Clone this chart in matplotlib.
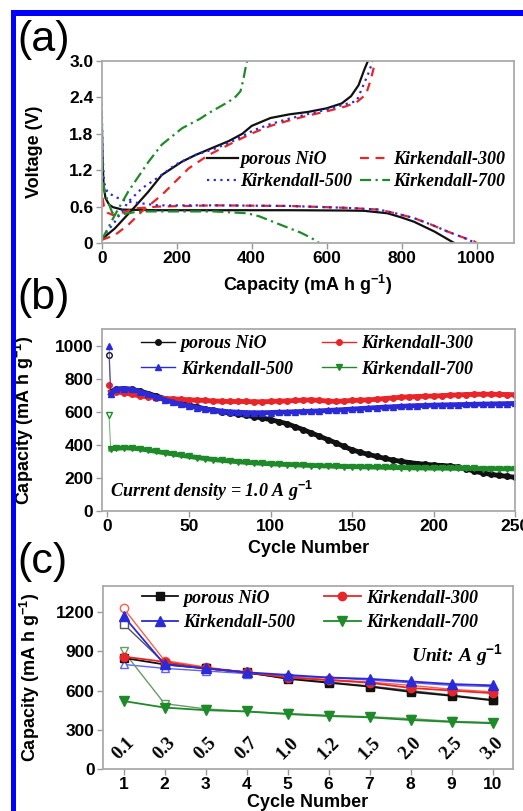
import matplotlib
matplotlib.use("Agg")
import matplotlib.pyplot as plt
from matplotlib.patches import Rectangle

plt.rcParams['font.family'] = ['Liberation Sans', 'DejaVu Sans']
plt.rcParams['font.weight'] = 'bold'
plt.rcParams['mathtext.fontset'] = 'custom'
plt.rcParams['mathtext.rm'] = 'Liberation Sans:bold'
plt.rcParams['mathtext.it'] = 'Liberation Serif:bold:italic'
plt.rcParams['mathtext.default'] = 'rm'

# ---- panel (a): voltage profiles ----
names = ['porous NiO', 'Kirkendall-300', 'Kirkendall-500', 'Kirkendall-700']

nio_dis_cap = [0, 2, 5, 10, 20, 30, 55, 150, 300, 500, 650, 700, 762, 800, 833, 860, 887, 915, 940]
nio_dis_v = [2.15, 1.4, 0.95, 0.74, 0.63, 0.59, 0.55, 0.54, 0.54, 0.54, 0.535, 0.53, 0.49, 0.42, 0.35, 0.27, 0.19, 0.09, 0.0]
nio_chg_cap = [0, 35, 89, 125, 160, 214, 250, 300, 339, 375, 400, 450, 500, 550, 600, 640, 665, 685, 700, 710]
nio_chg_v = [0.06, 0.24, 0.6, 0.85, 1.12, 1.34, 1.45, 1.58, 1.68, 1.8, 1.93, 2.06, 2.12, 2.16, 2.22, 2.30, 2.42, 2.6, 2.85, 3.0]

k300_dis_cap = [0, 2, 6, 15, 30, 55, 89, 150, 300, 500, 650, 740, 790, 833, 880, 922, 960, 993, 1000]
k300_dis_v = [1.0, 0.75, 0.6, 0.5, 0.46, 0.5, 0.57, 0.6, 0.62, 0.61, 0.58, 0.55, 0.48, 0.41, 0.3, 0.19, 0.1, 0.03, 0.0]
k300_chg_cap = [0, 35, 71, 107, 160, 232, 285, 339, 375, 406, 450, 500, 550, 600, 650, 680, 705, 718, 730]
k300_chg_v = [0.05, 0.13, 0.3, 0.52, 0.79, 1.23, 1.45, 1.62, 1.73, 1.82, 1.93, 2.02, 2.1, 2.17, 2.25, 2.32, 2.45, 2.7, 3.0]

k500_dis_cap = [0, 2, 6, 15, 35, 71, 150, 300, 500, 650, 740, 790, 833, 880, 922, 960, 990, 995]
k500_dis_v = [2.3, 1.5, 1.0, 0.84, 0.76, 0.68, 0.62, 0.62, 0.61, 0.58, 0.55, 0.48, 0.41, 0.3, 0.19, 0.1, 0.02, 0.0]
k500_chg_cap = [0, 35, 71, 107, 160, 196, 250, 300, 350, 406, 450, 500, 600, 680, 704, 715, 722]
k500_chg_v = [0.08, 0.35, 0.68, 0.9, 1.12, 1.29, 1.45, 1.55, 1.68, 1.86, 1.96, 2.05, 2.2, 2.34, 2.69, 2.85, 3.0]

k700_dis_cap = [0, 1, 3, 10, 17, 28, 40, 60, 100, 200, 300, 388, 420, 477, 531, 560, 580]
k700_dis_v = [2.1, 1.5, 1.0, 0.8, 0.68, 0.5, 0.45, 0.48, 0.52, 0.52, 0.52, 0.49, 0.44, 0.3, 0.17, 0.08, 0.0]
k700_chg_cap = [0, 35, 71, 125, 160, 214, 263, 285, 339, 357, 370, 378, 384, 388]
k700_chg_v = [0.05, 0.46, 0.85, 1.34, 1.62, 1.89, 2.05, 2.14, 2.33, 2.41, 2.5, 2.7, 2.9, 3.0]

# ---- panel (b): cycling at 1.0 A/g ----
cyc_b = [1, 2] + list(range(5, 251, 5))
nio_b = [940, 720, 735, 740, 735, 725, 710, 695, 680, 665, 650, 640, 628, 618, 608, 600, 592, 585,
         578, 570, 562, 552, 540, 528, 510, 492, 472, 452, 432, 412, 390, 370, 355, 342, 330, 318,
         308, 300, 293, 287, 282, 278, 275, 272, 265, 255, 240, 230, 222, 215, 210, 203]
k300_b = [760, 715, 720, 715, 705, 695, 690, 685, 680, 678, 675, 672, 670, 668, 665, 663, 662, 662,
          662, 660, 660, 662, 664, 665, 668, 670, 672, 668, 665, 662, 665, 668, 670, 672, 675, 680,
          683, 688, 690, 692, 694, 695, 697, 700, 702, 704, 705, 706, 706, 705, 704, 703]
k500_b = [1000, 705, 735, 740, 735, 722, 705, 690, 672, 658, 645, 635, 625, 617, 610, 604, 600, 597,
          595, 594, 594, 595, 597, 598, 600, 602, 603, 605, 608, 610, 613, 616, 619, 622, 625, 628,
          630, 633, 635, 637, 638, 640, 641, 642, 643, 644, 645, 646, 647, 648, 649, 650]
k700_b = [580, 375, 378, 382, 380, 375, 368, 360, 352, 345, 337, 330, 323, 317, 311, 306, 302, 298,
          294, 291, 288, 285, 283, 281, 279, 277, 275, 273, 272, 270, 269, 268, 267, 266, 265, 264,
          263, 262, 261, 260, 260, 259, 259, 258, 258, 257, 257, 256, 256, 255, 255, 255]

# ---- panel (c): rate capability ----
cyc_c = [1, 2, 3, 4, 5, 6, 7, 8, 9, 10]
rates = ['0.1', '0.3', '0.5', '0.7', '1.0', '1.2', '1.5', '2.0', '2.5', '3.0']
nio_fill = [850, 800, 770, 740, 690, 660, 630, 590, 560, 525]
nio_open = [1110, 810, 770, 735, 695, 665, 635, 600, 565, 530]
k300_fill = [860, 820, 770, 740, 700, 680, 660, 620, 600, 580]
k300_open = [1230, 830, 780, 740, 705, 685, 665, 640, 610, 590]
k500_fill = [1170, 800, 770, 740, 720, 700, 690, 670, 650, 640]
k500_open = [800, 770, 750, 730, 710, 700, 680, 660, 640, 630]
k700_fill = [520, 470, 450, 440, 420, 405, 395, 375, 360, 350]
k700_open = [900, 500, 460, 440, 425, 410, 400, 385, 365, 355]

BLACK, RED, BLUE, GREEN = '#111111', '#e8262a', '#2a2ad8', '#1f8a2a'
serif_leg = {'family': 'Liberation Serif', 'style': 'italic', 'weight': 'bold', 'size': 13}

fig = plt.figure(figsize=(5.23, 8.11), dpi=100)


def style_axes(ax):
    for s in ax.spines.values():
        s.set_color('#aaaaaa')
        s.set_linewidth(1.3)
    ax.tick_params(direction='out', length=4, width=1, color='#999999',
                   labelsize=12.5, pad=2, top=False, right=False)
    for lab in ax.get_xticklabels() + ax.get_yticklabels():
        lab.set_fontweight('bold')


# (a)
ax1 = fig.add_axes([0.1945, 0.7004, 0.7885, 0.2244])
ax1.plot(nio_dis_cap, nio_dis_v, color=BLACK, lw=1.6, label=names[0])
ax1.plot(nio_chg_cap, nio_chg_v, color=BLACK, lw=1.6)
ax1.plot(k300_dis_cap, k300_dis_v, color=RED, lw=1.6, ls=(0, (4, 3)), label=names[1])
ax1.plot(k300_chg_cap, k300_chg_v, color=RED, lw=1.6, ls=(0, (4, 3)))
ax1.plot(k500_dis_cap, k500_dis_v, color=BLUE, lw=1.6, ls=(0, (1, 2)), label=names[2])
ax1.plot(k500_chg_cap, k500_chg_v, color=BLUE, lw=1.6, ls=(0, (1, 2)))
ax1.plot(k700_dis_cap, k700_dis_v, color=GREEN, lw=1.6, ls=(0, (5, 2, 1, 2)), label=names[3])
ax1.plot(k700_chg_cap, k700_chg_v, color=GREEN, lw=1.6, ls=(0, (5, 2, 1, 2)))
ax1.set_xlim(0, 1100)
ax1.set_ylim(0, 3.0)
ax1.set_xticks([0, 200, 400, 600, 800, 1000])
ax1.set_yticks([0, 0.6, 1.2, 1.8, 2.4, 3.0])
ax1.set_yticklabels(['0', '0.6', '1.2', '1.8', '2.4', '3.0'])
ax1.set_xlabel(r'Capacity (mA h g$^{-1}$)', fontsize=13, fontweight='bold')
ax1.set_ylabel('Voltage (V)', fontsize=13, fontweight='bold')
ax1.xaxis.set_label_coords(0.5, -0.165)
ax1.yaxis.set_label_coords(-0.142, 0.5)
h, l = ax1.get_legend_handles_labels()
order = [0, 2, 1, 3]
ax1.legend([h[i] for i in order], [l[i] for i in order], ncol=2, loc='upper left',
           bbox_to_anchor=(0.255, 0.505), frameon=False, prop=serif_leg,
           handlelength=1.7, handletextpad=0.15, columnspacing=0.4, labelspacing=0.3,
           borderpad=0, borderaxespad=0)
style_axes(ax1)

# (b)
ax2 = fig.add_axes([0.1945, 0.3699, 0.7905, 0.2244])
for vals, c, m, ms in [(nio_b, BLACK, 'o', 4), (k300_b, RED, 'o', 4),
                       (k500_b, BLUE, '^', 4.5), (k700_b, GREEN, 'v', 4.5)]:
    ax2.plot(cyc_b[:2], vals[:2], color=c, lw=0.8, alpha=0.6)
    ax2.plot(cyc_b[:1], vals[:1], color=c, marker=m, ms=ms, mfc='white' if c in (BLACK, GREEN) else c)
    ax2.plot(cyc_b[1:], vals[1:], color=c, lw=3.5, marker=m, ms=ms)
ax2.set_xlim(-3.5, 250)
ax2.set_ylim(0, 1100)
ax2.set_xticks([0, 50, 100, 150, 200, 250])
ax2.set_yticks([0, 200, 400, 600, 800, 1000])
ax2.set_xlabel('Cycle Number', fontsize=13, fontweight='bold')
ax2.set_ylabel(r'Capacity (mA h g$^{-1}$)', fontsize=13, fontweight='bold')
ax2.xaxis.set_label_coords(0.5, -0.16)
ax2.yaxis.set_label_coords(-0.16, 0.5)
leg_h = [plt.Line2D([], [], color=c, lw=1, marker=m, ms=4) for c, m in
         [(BLACK, 'o'), (BLUE, '^'), (RED, 'o'), (GREEN, 'v')]]
ax2.legend(leg_h, [names[0], names[2], names[1], names[3]], ncol=2, loc='upper left',
           bbox_to_anchor=(0.095, 0.965), frameon=False, prop=serif_leg,
           handlelength=1.9, handletextpad=0.3, columnspacing=1.6, labelspacing=0.45,
           borderpad=0, borderaxespad=0)
ax2.text(0.02, 0.11, r'Current density = 1.0 A g$^{\mathit{-1}}$', transform=ax2.transAxes,
         va='center', ha='left', fontdict=serif_leg)
style_axes(ax2)

# (c)
ax3 = fig.add_axes([0.197, 0.0518, 0.784, 0.2256])
ax3.plot(cyc_c, nio_open, color='#555555', lw=1, marker='s', ms=6, mfc='white', mec='#555555')
ax3.plot(cyc_c, k300_open, color='#ff6040', lw=1, marker='o', ms=6, mfc='white', mec='#ff6040')
ax3.plot(cyc_c, k500_open, color='#6060ff', lw=1, marker='^', ms=6, mfc='white', mec='#6060ff')
ax3.plot(cyc_c, k700_open, color='#6a9a6a', lw=1, marker='v', ms=6, mfc='white', mec='#6a9a6a')
ax3.plot(cyc_c, nio_fill, color=BLACK, lw=1.3, marker='s', ms=6, label=names[0])
ax3.plot(cyc_c, k300_fill, color=RED, lw=1.3, marker='o', ms=6, label=names[1])
ax3.plot(cyc_c, k500_fill, color=BLUE, lw=1.3, marker='^', ms=6.5, label=names[2])
ax3.plot(cyc_c, k700_fill, color=GREEN, lw=1.3, marker='v', ms=6.5, label=names[3])
ax3.set_xlim(0.5, 10.5)
ax3.set_ylim(0, 1400)
ax3.set_xticks(cyc_c)
ax3.set_yticks([0, 300, 600, 900, 1200])
ax3.set_xlabel('Cycle Number', fontsize=13, fontweight='bold')
ax3.set_ylabel(r'Capacity (mA h g$^{-1}$)', fontsize=13, fontweight='bold')
ax3.xaxis.set_label_coords(0.5, -0.135)
ax3.yaxis.set_label_coords(-0.15, 0.5)
h, l = ax3.get_legend_handles_labels()
ax3.legend([h[i] for i in order], [l[i] for i in order], ncol=2, loc='upper left',
           bbox_to_anchor=(0.095, 0.98), frameon=False, prop=serif_leg,
           handlelength=2.0, handletextpad=0.3, columnspacing=1.6, labelspacing=0.4,
           borderpad=0, borderaxespad=0)
for x, r in zip(cyc_c, rates):
    ax3.text(x, 160, r, rotation=45, ha='center', va='center',
             family='Liberation Serif', weight='bold', size=13.5)
ax3.text(0.975, 0.623, r'Unit: A g$^{\mathit{-1}}$', transform=ax3.transAxes,
         ha='right', va='center', fontdict=dict(serif_leg, size=14))
style_axes(ax3)

# panel letters
for y, t in [(0.951, '(a)'), (0.633, '(b)'), (0.307, '(c)')]:
    fig.text(0.034, y, t, fontsize=31, fontweight='normal', va='center', ha='left')

# blue frame (top and left edges)
fig.patches.append(Rectangle((11 / 523, 0), 5 / 523, 1 - 10 / 811, transform=fig.transFigure,
                             facecolor='#0000ff', edgecolor='none'))
fig.patches.append(Rectangle((11 / 523, 1 - 16 / 811), 1, 6 / 811, transform=fig.transFigure,
                             facecolor='#0000ff', edgecolor='none'))

fig.savefig('out.png', dpi=100)
